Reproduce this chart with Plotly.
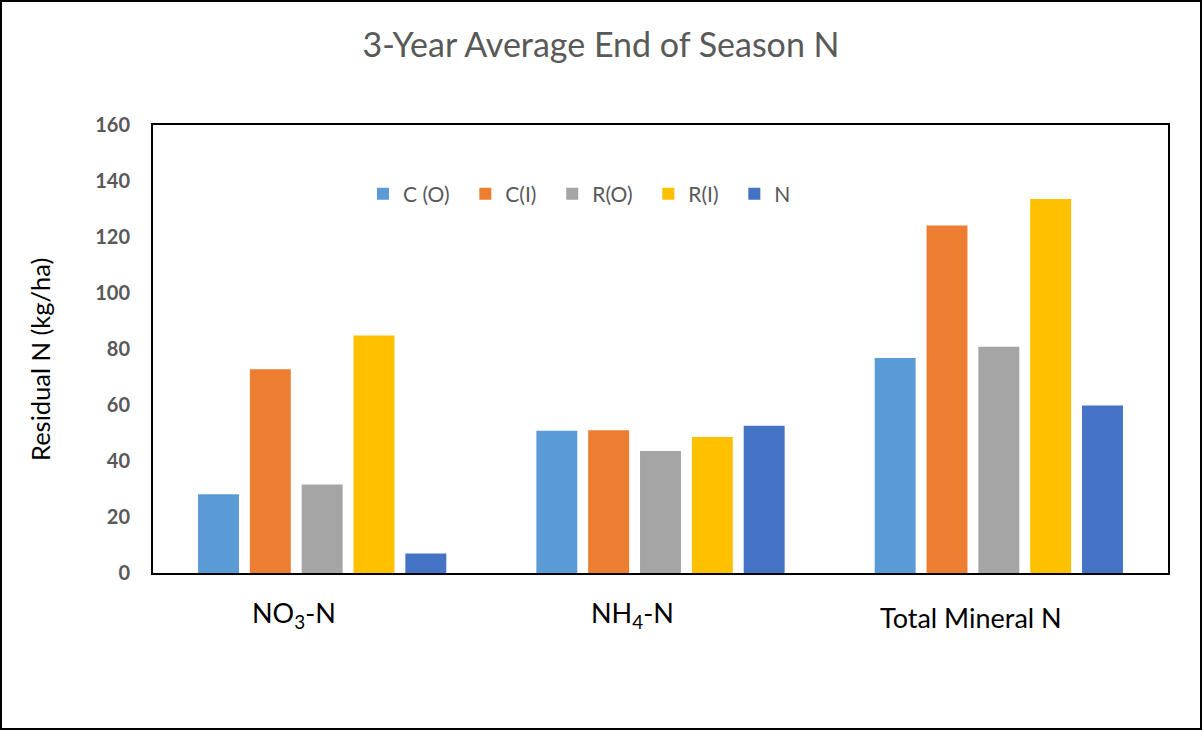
import plotly.graph_objects as go

categories = ["NO<sub>3</sub>-N", "NH<sub>4</sub>-N", "Total Mineral N"]
series_names = ["C (O)", "C(I)", "R(O)", "R(I)", "N"]
series_values = {
    "C (O)": [28.1, 50.8, 76.8],
    "C(I)": [72.8, 51.0, 124.1],
    "R(O)": [31.6, 43.6, 80.8],
    "R(I)": [84.8, 48.6, 133.6],
    "N": [7.0, 52.6, 59.8],
}
series_colors = ["#5B9BD5", "#ED7D31", "#A5A5A5", "#FFC000", "#4472C4"]
y_ticks = [0, 20, 40, 60, 80, 100, 120, 140, 160]

W, H = 1202, 731
ML, MR, MT, MB = 153, 34, 125, 158
PW, PH = W - ML - MR, H - MT - MB

fig = go.Figure()
xs = [0, 1, 2]
pad = "\u00a0\u00a0"
for name, color in zip(series_names, series_colors):
    fig.add_trace(go.Bar(x=xs, y=series_values[name], name=name + pad,
                         marker=dict(color=color, line=dict(width=0))))

font_fam = "Lato, 'Open Sans', sans-serif"

label_yshift = [-21, -21, -26]
for i, cat in enumerate(categories):
    fig.add_annotation(x=xs[i], y=0, xref="x", yref="y", text=cat, showarrow=False,
                       yanchor="top", yshift=label_yshift[i], xshift=-28,
                       font=dict(family=font_fam, size=27, color="#000000"))

# y-axis title (placed slightly below the plot centre, as in the reference)
fig.add_annotation(x=(40 - ML) / PW, y=(H - MB - 360) / PH, xref="paper", yref="paper",
                   text="Residual N (kg/ha)", textangle=-90, showarrow=False,
                   xanchor="center", yanchor="middle",
                   font=dict(family=font_fam, size=25.5, color="#000000"))

fig.update_layout(
    width=W, height=H,
    margin=dict(l=ML, r=MR, t=MT, b=MB, autoexpand=False),
    paper_bgcolor="white", plot_bgcolor="white",
    barmode="group", bargap=0.234, bargroupgap=0.21,
    title=dict(text="3-Year Average End of Season N", x=0.5, xanchor="center",
               y=1 - 45 / H, yanchor="middle",
               font=dict(family=font_fam, size=34, color="#595959")),
    legend=dict(orientation="h", x=(363 - ML) / PW, y=(H - MB - 194) / PH,
                xanchor="left", yanchor="middle", bgcolor="rgba(0,0,0,0)",
                font=dict(family=font_fam, size=21, color="#595959"),
                itemsizing="constant", tracegroupgap=0),
    showlegend=True,
    xaxis=dict(range=[-0.5, 2.5], tickvals=xs, showticklabels=False, showgrid=False,
               zeroline=False, showline=True, linecolor="black", linewidth=2, mirror=True,
               ticks=""),
    yaxis=dict(range=[0, 160], tickvals=y_ticks, showgrid=False, zeroline=False,
               showline=True, linecolor="black", linewidth=2, mirror=True, ticks="",
               ticklabelstandoff=17,
               tickfont=dict(family=font_fam, size=20, color="#595959", weight="bold")),
)

fig.add_shape(type="rect", xref="paper", yref="paper",
              x0=-(ML - 1) / PW, x1=1 + (MR - 1) / PW,
              y0=-(MB - 2) / PH, y1=1 + (MT - 1) / PH,
              line=dict(color="black", width=2), fillcolor="rgba(0,0,0,0)", layer="above")

fig.write_html("out.html", config={"displayModeBar": False},
               post_script="document.body.style.margin='0';")
